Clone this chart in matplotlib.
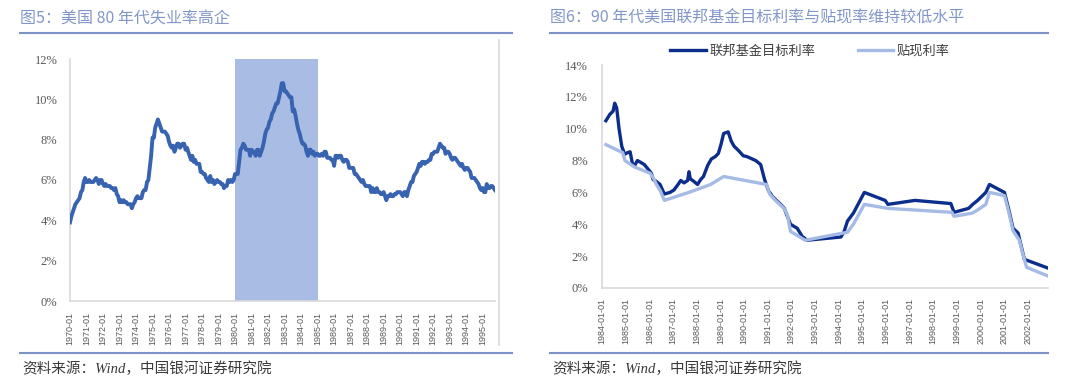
import numpy as np
import pandas as pd
import matplotlib
matplotlib.use("Agg")
import matplotlib.pyplot as plt
from matplotlib.lines import Line2D

CJK = ['Noto Sans CJK SC', 'DejaVu Sans']

# 图5: US unemployment rate, monthly from 1970-01 (%)
unemp = [
    3.9, 4.2, 4.4, 4.6, 4.8, 4.9, 5.0, 5.1, 5.4, 5.5, 5.9, 6.1,
    5.9, 5.9, 6.0, 5.9, 5.9, 5.9, 6.0, 6.1, 6.0, 5.8, 6.0, 6.0,
    5.8, 5.7, 5.8, 5.7, 5.7, 5.7, 5.6, 5.6, 5.5, 5.6, 5.3, 5.2,
    4.9, 5.0, 4.9, 5.0, 4.9, 4.9, 4.8, 4.8, 4.8, 4.6, 4.8, 4.9,
    5.1, 5.2, 5.1, 5.1, 5.1, 5.4, 5.5, 5.5, 5.9, 6.0, 6.6, 7.2,
    8.1, 8.1, 8.6, 8.8, 9.0, 8.8, 8.6, 8.4, 8.4, 8.4, 8.3, 8.2,
    7.9, 7.7, 7.6, 7.7, 7.4, 7.6, 7.8, 7.8, 7.6, 7.7, 7.8, 7.8,
    7.5, 7.6, 7.4, 7.2, 7.0, 7.2, 6.9, 7.0, 6.8, 6.8, 6.8, 6.4,
    6.4, 6.3, 6.3, 6.1, 6.0, 5.9, 6.2, 5.9, 6.0, 5.8, 5.9, 6.0,
    5.9, 5.9, 5.8, 5.8, 5.6, 5.7, 5.7, 6.0, 5.9, 6.0, 5.9, 6.0,
    6.3, 6.3, 6.3, 6.9, 7.5, 7.6, 7.8, 7.7, 7.5, 7.5, 7.5, 7.2,
    7.5, 7.4, 7.4, 7.2, 7.5, 7.5, 7.2, 7.4, 7.6, 7.9, 8.3, 8.5,
    8.6, 8.9, 9.0, 9.3, 9.4, 9.6, 9.8, 9.8, 10.1, 10.4, 10.8, 10.8,
    10.4, 10.4, 10.3, 10.2, 10.1, 10.1, 9.4, 9.5, 9.2, 8.8, 8.5, 8.3,
    8.0, 7.8, 7.8, 7.7, 7.4, 7.2, 7.5, 7.5, 7.3, 7.4, 7.2, 7.3,
    7.3, 7.2, 7.2, 7.3, 7.2, 7.4, 7.4, 7.1, 7.1, 7.1, 7.0, 7.0,
    6.7, 7.2, 7.2, 7.1, 7.2, 7.2, 7.0, 6.9, 7.0, 7.0, 6.9, 6.6,
    6.6, 6.6, 6.6, 6.3, 6.3, 6.2, 6.1, 6.0, 5.9, 6.0, 5.8, 5.7,
    5.7, 5.7, 5.7, 5.4, 5.6, 5.4, 5.4, 5.6, 5.4, 5.4, 5.3, 5.3,
    5.4, 5.2, 5.0, 5.2, 5.2, 5.3, 5.2, 5.2, 5.3, 5.3, 5.4, 5.4,
    5.4, 5.3, 5.2, 5.4, 5.4, 5.2, 5.5, 5.7, 5.9, 5.9, 6.2, 6.3,
    6.4, 6.6, 6.8, 6.7, 6.9, 6.9, 6.8, 6.9, 6.9, 7.0, 7.0, 7.3,
    7.3, 7.4, 7.4, 7.4, 7.6, 7.8, 7.7, 7.6, 7.6, 7.3, 7.4, 7.4,
    7.3, 7.1, 7.0, 7.1, 7.1, 7.0, 6.9, 6.8, 6.7, 6.8, 6.6, 6.5,
    6.6, 6.6, 6.5, 6.4, 6.1, 6.1, 6.1, 6.0, 5.9, 5.8, 5.6, 5.5,
    5.6, 5.4, 5.4, 5.8, 5.6, 5.6, 5.7, 5.7, 5.6, 5.5,
]
unemp_start = '1970-01-01'
recession = ('1980-01-01', '1985-01-01')
left_years = list(range(1970, 1996))

# 图6: fed funds target rate and discount rate (%)
fed_dates = ['1984-03-01', '1984-05-01', '1984-06-20', '1984-07-15', '1984-08-15',
             '1984-09-20', '1984-11-01', '1984-12-15', '1985-02-01', '1985-03-10',
             '1985-04-15', '1985-05-20', '1985-07-01', '1985-08-15', '1985-10-15',
             '1985-12-15', '1986-02-01', '1986-03-01', '1986-04-15', '1986-06-15',
             '1986-08-20', '1986-11-15', '1987-01-15', '1987-03-20', '1987-05-01',
             '1987-06-20', '1987-08-15', '1987-09-05', '1987-09-25', '1987-11-01',
             '1988-01-15', '1988-03-01', '1988-04-15', '1988-06-01', '1988-06-20',
             '1988-08-15', '1988-10-15', '1988-12-01', '1989-01-10', '1989-02-20',
             '1989-05-01', '1989-06-20', '1989-08-01', '1989-10-15', '1989-12-20',
             '1990-02-15', '1990-07-01', '1990-09-15', '1990-11-15', '1991-01-15',
             '1991-03-15', '1991-05-15', '1991-07-20', '1991-09-15', '1991-11-01',
             '1991-12-20', '1992-04-01', '1992-06-15', '1992-09-01', '1994-02-04',
             '1994-03-22', '1994-05-17', '1994-08-16', '1995-02-01', '1995-12-19',
             '1996-01-31', '1997-03-25', '1998-09-29', '1998-11-17', '1999-06-30',
             '1999-09-01', '1999-11-16', '2000-03-21', '2000-05-16', '2001-01-03',
             '2001-03-20', '2001-05-15', '2001-08-01', '2001-11-06', '2002-11-06']
fed_rate = [10.5, 10.9, 11.1, 11.6, 11.3,
            10.0, 8.9, 8.4, 8.5, 8.55,
            7.8, 7.7, 8.0, 7.9, 7.75,
            7.45, 7.2, 6.8, 6.7, 6.5,
            5.9, 6.0, 6.15, 6.5, 6.75,
            6.6, 6.75, 7.3, 6.85, 6.75,
            6.5, 6.8, 7.0, 7.5, 7.7,
            8.1, 8.25, 8.45, 9.0, 9.7,
            9.8, 9.2, 8.9, 8.6, 8.3,
            8.25, 8.0, 7.75, 6.8, 6.1,
            5.75, 5.5, 5.25, 5.0, 4.5,
            4.0, 3.75, 3.25, 3.0, 3.2,
            3.5, 4.2, 4.7, 6.0, 5.5,
            5.25, 5.5, 5.3, 4.75, 5.0,
            5.25, 5.5, 6.0, 6.5, 6.0,
            4.75, 3.75, 3.45, 1.8, 1.25]

disc_dates = ['1984-03-01', '1984-11-15', '1984-12-20', '1985-05-15', '1986-01-15',
              '1986-03-05', '1986-04-20', '1986-06-20', '1986-08-20', '1987-09-01',
              '1988-08-05', '1989-02-20', '1990-12-15', '1991-02-01', '1991-04-30',
              '1991-09-10', '1991-11-01', '1991-12-20', '1992-08-01', '1994-05-17',
              '1994-08-16', '1995-02-01', '1996-01-31', '1998-10-15', '1998-11-17',
              '1999-08-24', '1999-11-16', '2000-03-21', '2000-05-16', '2001-01-04',
              '2001-03-20', '2001-05-15', '2001-08-21', '2001-10-02', '2001-12-11',
              '2002-11-06']
disc_rate = [9.0, 8.5, 8.0, 7.6, 7.2,
             6.9, 6.5, 6.1, 5.5, 6.0,
             6.5, 7.0, 6.5, 5.9, 5.5,
             5.0, 4.6, 3.55, 3.0, 3.5,
             4.0, 5.25, 5.0, 4.75, 4.5,
             4.7, 4.9, 5.25, 6.0, 5.8,
             4.6, 3.6, 3.0, 2.3, 1.3,
             0.75]
right_years = list(range(1984, 2003))

TICK_GREY = '#595959'
AXIS_GREY = '#d9d9d9'
TITLE_BLUE = '#8196c9'
RULE_BLUE = '#7d92c7'


def style_axes(ax, ymax, ystep, years, fmt, xpad, ypad):
    ax.set_ylim(0, ymax)
    ax.set_yticks(np.arange(0, ymax + 1e-9, ystep))
    ax.set_yticklabels([f'{v * 100:.0f}%' for v in np.arange(0, ymax + 1e-9, ystep)],
                       family='Liberation Serif', fontsize=9, color=TICK_GREY)
    ticks = [pd.Timestamp(f'{y}-01-01') for y in years]
    ax.set_xticks(ticks)
    ax.set_xticklabels([fmt.format(y) for y in years], rotation=90,
                       family='Liberation Sans', fontsize=6.5, color=TICK_GREY)
    ax.tick_params(axis='both', length=0)
    ax.tick_params(axis='x', pad=xpad)
    ax.tick_params(axis='y', pad=ypad)
    for side in ('top', 'right'):
        ax.spines[side].set_visible(False)
    for side in ('left', 'bottom'):
        ax.spines[side].set_color(AXIS_GREY)
        ax.spines[side].set_linewidth(1.2)


fig = plt.figure(figsize=(10.8, 3.81), dpi=100)

# left chart
ax1 = fig.add_axes([70 / 1080, 1 - 301 / 381, 425 / 1080, 242 / 381])
dates1 = pd.date_range(unemp_start, periods=len(unemp), freq='MS')
ax1.axvspan(pd.Timestamp(recession[0]), pd.Timestamp(recession[1]),
            color='#a8bce4', lw=0, zorder=1)
ax1.plot(dates1, np.array(unemp) / 100, color='#3763b0', lw=2.8,
         solid_joinstyle='round', zorder=3)
ax1.set_xlim(dates1[0], dates1[-1])
style_axes(ax1, 0.12, 0.02, left_years, '{}-01', 8, 9)

# right chart
ax2 = fig.add_axes([602 / 1080, 1 - 288 / 381, 446 / 1080, 223 / 381])
l1, = ax2.plot(pd.to_datetime(fed_dates), np.array(fed_rate) / 100,
               color='#0b2d8c', lw=2.4, solid_joinstyle='round', zorder=3)
l2, = ax2.plot(pd.to_datetime(disc_dates), np.array(disc_rate) / 100,
               color='#a5bbe6', lw=2.4, solid_joinstyle='round', zorder=4)
ax2.set_xlim(pd.Timestamp('1984-01-01'), pd.Timestamp(fed_dates[-1]))
style_axes(ax2, 0.14, 0.02, right_years, '{}-01-01', 7, 10)
leg = ax2.legend([l1, l2], ['联邦基金目标利率', '贴现利率'], ncol=2, frameon=False,
                 loc='center', bbox_to_anchor=(810 / 1080, 1 - 51 / 381),
                 bbox_transform=fig.transFigure, handlelength=2.7,
                 handletextpad=0.25, columnspacing=3.2,
                 prop={'family': CJK, 'size': 9.5})
for t in leg.get_texts():
    t.set_color('#404040')

# titles, rules and sources
fig.text(20 / 1080, 1 - 18 / 381, '图5：美国 80 年代失业率高企', family=CJK,
         fontsize=11.5, color=TITLE_BLUE, va='center', ha='left')
fig.text(550 / 1080, 1 - 18 / 381, '图6：90 年代美国联邦基金目标利率与贴现率维持较低水平',
         family=CJK, fontsize=11.5, color=TITLE_BLUE, va='center', ha='left')
for x0, x1 in [(20, 512), (550, 1048)]:
    for yy in (33, 352.5):
        fig.add_artist(Line2D([x0 / 1080, x1 / 1080], [1 - yy / 381] * 2,
                              color=RULE_BLUE, lw=1.5))
    fig.text(x0 / 1080 + 2 / 1080, 1 - 369 / 381, '资料来源：Wind，中国银河证券研究院',
             family=['Liberation Serif', 'Noto Sans CJK SC'], fontsize=10.5,
             style='italic', color='#3a3a3a', va='center', ha='left')
fig.add_artist(Line2D([499 / 1080] * 2, [1 - 40 / 381, 1 - 345 / 381],
                      color=AXIS_GREY, lw=1.2))

fig.savefig('out.png', dpi=100)
